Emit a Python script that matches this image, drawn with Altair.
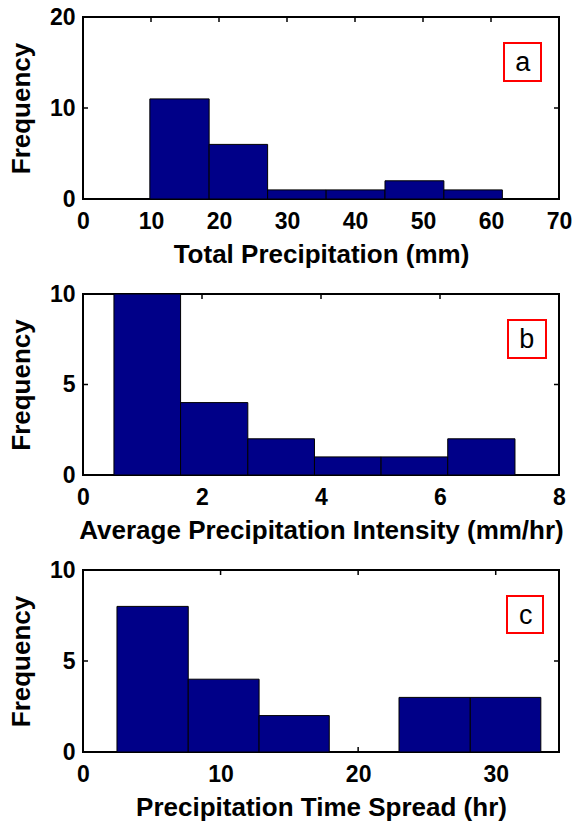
import altair as alt
import pandas as pd

FONT = "Liberation Sans"
BAR_FILL = "#000088"
PANEL_W = 476
TICK_LEN = 5

# (a) total precipitation per event (mm): bin edges and counts
total_edges = [9.83, 18.55, 27.15, 35.76, 44.41, 53.07, 61.67]
total_counts = [11, 6, 1, 1, 2, 1]
total_xticks = [0, 10, 20, 30, 40, 50, 60, 70]
total_yticks = [0, 10, 20]

# (b) average precipitation intensity (mm/hr)
intensity_edges = [0.52, 1.64, 2.77, 3.89, 5.01, 6.13, 7.26]
intensity_counts = [10, 4, 2, 1, 1, 2]
intensity_xticks = [0, 2, 4, 6, 8]
intensity_yticks = [0, 5, 10]

# (c) precipitation time spread (hr)
spread_edges = [2.47, 7.65, 12.8, 17.9, 22.97, 28.15, 33.28]
spread_counts = [8, 4, 2, 0, 3, 3]
spread_xticks = [0, 10, 20, 30]
spread_yticks = [0, 5, 10]


def panel(edges, counts, xdomain, xticks, ydomain, yticks, xtitle,
          letter, box, text_x, height):
    bins = pd.DataFrame({"lo": edges[:-1], "hi": edges[1:], "n": counts})
    xt = pd.DataFrame({"lo": xticks})
    yt = pd.DataFrame({"n": yticks})
    tag = pd.DataFrame({"tag": [letter]})

    xs = alt.Scale(domain=xdomain, nice=False, zero=False)
    ys = alt.Scale(domain=ydomain, nice=False, zero=False)

    hist = alt.Chart(bins).mark_rect(
        fill=BAR_FILL, stroke="black", strokeWidth=1
    ).encode(
        x=alt.X("lo:Q", scale=xs,
                axis=alt.Axis(values=xticks, title=xtitle, format="d")),
        x2="hi:Q",
        y=alt.Y("n:Q", scale=ys,
                axis=alt.Axis(values=yticks, title="Frequency", format="d")),
        y2=alt.datum(0),
    )

    # inward-pointing tick marks on all four sides of the box
    rule = dict(color="black", strokeWidth=1.5)
    bottom = alt.Chart(xt).mark_rule(**rule).encode(
        x="lo:Q", y=alt.value(height), y2=alt.value(height - TICK_LEN))
    top = alt.Chart(xt).mark_rule(**rule).encode(
        x="lo:Q", y=alt.value(0), y2=alt.value(TICK_LEN))
    left = alt.Chart(yt).mark_rule(**rule).encode(
        y="n:Q", x=alt.value(0), x2=alt.value(TICK_LEN))
    right = alt.Chart(yt).mark_rule(**rule).encode(
        y="n:Q", x=alt.value(PANEL_W), x2=alt.value(PANEL_W - TICK_LEN))

    frame = alt.Chart(tag).mark_rect(
        fillOpacity=0, stroke="#ff0000", strokeWidth=2
    ).encode(
        x=alt.value(box[0]), x2=alt.value(box[1]),
        y=alt.value(box[2]), y2=alt.value(box[3]),
    )
    label = alt.Chart(tag).mark_text(
        font=FONT, fontSize=27, align="center", baseline="alphabetic", color="black"
    ).encode(x=alt.value(text_x), y=alt.value(54), text="tag:N")

    return alt.layer(bottom, left, hist, top, right, frame, label).properties(
        width=PANEL_W, height=height)


a = panel(total_edges, total_counts, [0, 70], total_xticks, [0, 20], total_yticks,
          "Total Precipitation (mm)", "a", (421, 458, 26, 64), 439.7, 182)
b = panel(intensity_edges, intensity_counts, [0, 8], intensity_xticks, [0, 10],
          intensity_yticks, "Average Precipitation Intensity (mm/hr)", "b",
          (425, 463, 26, 64), 443.7, 181)
c = panel(spread_edges, spread_counts, [0, 34.6], spread_xticks, [0, 10], spread_yticks,
          "Precipitation Time Spread (hr)", "c", (424, 460, 26, 63), 442.7, 182)

chart = alt.vconcat(a, b, c, spacing=95, bounds="flush").properties(
    padding={"left": 7, "top": 5, "right": 0, "bottom": 0},
    background="white",
).configure_view(
    stroke="black", strokeWidth=2
).configure_axis(
    labelFont=FONT, labelFontSize=23, labelFontWeight="bold", labelColor="black",
    titleFont=FONT, titleFontSize=26, titleFontWeight="bold", titleColor="black",
    ticks=False, tickSize=0, domain=False, grid=False,
    labelFlush=False, labelOverlap=False,
).configure_axisX(
    labelPadding=11, titlePadding=8
).configure_axisY(
    labelPadding=8, titlePadding=15
)

chart.save("out.html", embed_options={"renderer": "svg", "actions": False})
